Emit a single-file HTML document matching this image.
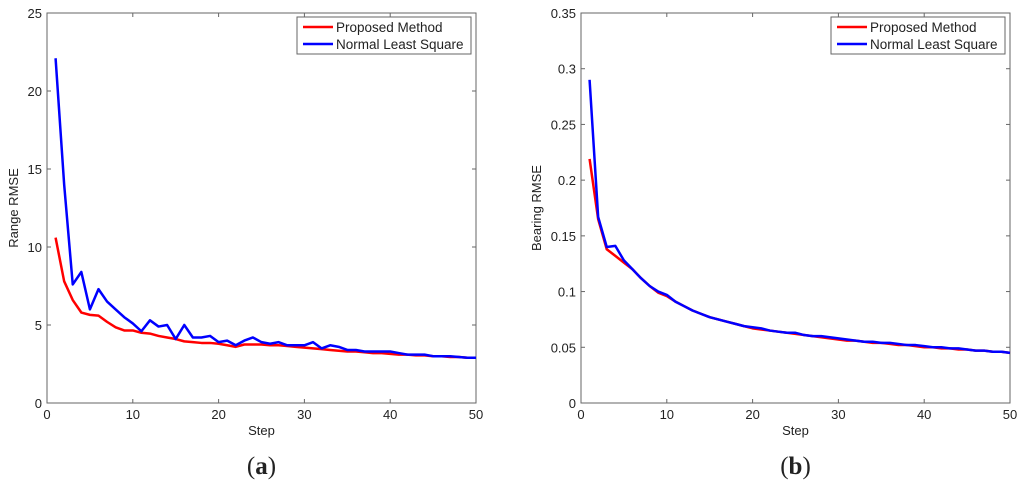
<!DOCTYPE html>
<html><head><meta charset="utf-8"><style>
body{margin:0;background:#fff;}
svg text{font-family:"Liberation Sans",sans-serif;fill:#222;}
</style></head><body>
<svg id="c" width="1024" height="484" xmlns="http://www.w3.org/2000/svg"></svg>
<script>
const steps = Array.from({length:50},(_,i)=>i+1);
const rangeProposed = [10.6,7.8,6.6,5.8,5.65,5.6,5.2,4.85,4.65,4.65,4.5,4.45,4.3,4.2,4.1,3.95,3.9,3.85,3.85,3.8,3.7,3.6,3.75,3.75,3.75,3.7,3.7,3.65,3.6,3.55,3.5,3.45,3.4,3.35,3.3,3.3,3.25,3.2,3.2,3.15,3.1,3.1,3.05,3.05,3.0,3.0,2.95,2.95,2.9,2.9];
const rangeNLS = [22.1,14.0,7.6,8.4,6.0,7.3,6.5,6.0,5.5,5.1,4.6,5.3,4.9,5.0,4.1,5.0,4.2,4.2,4.3,3.9,4.0,3.7,4.0,4.2,3.9,3.8,3.9,3.7,3.7,3.7,3.9,3.5,3.7,3.6,3.4,3.4,3.3,3.3,3.3,3.3,3.2,3.1,3.1,3.1,3.0,3.0,3.0,2.95,2.9,2.9];
const bearProposed = [0.219,0.165,0.138,0.132,0.126,0.12,0.112,0.105,0.099,0.096,0.091,0.087,0.083,0.08,0.077,0.075,0.073,0.071,0.069,0.067,0.066,0.065,0.064,0.063,0.062,0.061,0.06,0.059,0.058,0.057,0.056,0.056,0.055,0.054,0.054,0.053,0.052,0.052,0.051,0.05,0.05,0.049,0.049,0.048,0.048,0.047,0.047,0.046,0.046,0.045];
const bearNLS = [0.29,0.167,0.14,0.141,0.128,0.12,0.112,0.105,0.1,0.097,0.091,0.087,0.083,0.08,0.077,0.075,0.073,0.071,0.069,0.068,0.067,0.065,0.064,0.063,0.063,0.061,0.06,0.06,0.059,0.058,0.057,0.056,0.055,0.055,0.054,0.054,0.053,0.052,0.052,0.051,0.05,0.05,0.049,0.049,0.048,0.047,0.047,0.046,0.046,0.045];
const xTicks = [0,10,20,30,40,50];
const rangeTicks = [0,5,10,15,20,25];
const bearTicks = [0,0.05,0.1,0.15,0.2,0.25,0.3,0.35];
const bearTickLabels = ["0","0.05","0.1","0.15","0.2","0.25","0.3","0.35"];

const svg=document.getElementById('c');
const NS='http://www.w3.org/2000/svg';
function mk(tag,attrs,parent){const e=document.createElementNS(NS,tag);for(const k in attrs)e.setAttribute(k,attrs[k]);(parent||svg).appendChild(e);return e;}

function panel(L,R,ymax,yTicks,yLabels,s1,s2,ytitle,titleOff,tag,pname){
  const T=13,B=403;
  const g=mk('g',{});
  
  
  const xs=v=>L+(v/50)*(R-L);
  const ys=v=>B-(v/ymax)*(B-T);
  const frame=mk('rect',{x:L,y:T,width:R-L,height:B-T,fill:'none',stroke:'#666','stroke-width':1},g);
  
  
  xTicks.forEach(t=>{
    const x=xs(t);
    mk('line',{x1:x,y1:B,x2:x,y2:B-4,stroke:'#666'},g);
    mk('line',{x1:x,y1:T,x2:x,y2:T+4,stroke:'#666'},g);
    const tx=mk('text',{x:x,y:419,'font-size':13,'text-anchor':'middle'},g);
    tx.textContent=t;
    
    
  });
  yTicks.forEach((t,i)=>{
    const y=ys(t);
    mk('line',{x1:L,y1:y,x2:L+4,y2:y,stroke:'#666'},g);
    mk('line',{x1:R,y1:y,x2:R-4,y2:y,stroke:'#666'},g);
    const tx=mk('text',{x:L-5,y:y+5,'font-size':13,'text-anchor':'end'},g);
    tx.textContent=yLabels[i];
    
    
  });
  [[s1,'#ff0000','series-proposed-method'],[s2,'#0000ff','series-normal-least-square']].forEach(([s,c,n])=>{
    const p=mk('polyline',{points:s.map((v,i)=>xs(steps[i])+','+ys(v)).join(' '),fill:'none',stroke:c,'stroke-width':2.5,'stroke-linejoin':'round'},g);
    
    
  });
  const lg=mk('g',{},g);
  
  
  mk('rect',{x:R-179,y:17,width:174,height:37,fill:'#fff',stroke:'#666'},lg);
  [['Proposed Method','#ff0000',27],['Normal Least Square','#0000ff',44]].forEach(([t,c,y])=>{
    mk('line',{x1:R-173,y1:y,x2:R-143,y2:y,stroke:c,'stroke-width':2.5},lg);
    const tx=mk('text',{x:R-140,y:y+5,'font-size':13.5},lg);
    tx.textContent=t;
    
    
  });
  const xt=mk('text',{x:(L+R)/2,y:435,'font-size':13,'text-anchor':'middle'},g);
  xt.textContent='Step';
  
  
  const cy=(T+B)/2;
  const tx0=L-titleOff;
  const yt=mk('text',{x:tx0,y:cy,'font-size':13,'text-anchor':'middle',transform:`rotate(-90 ${tx0} ${cy})`},g);
  yt.textContent=ytitle;
  
  
  const cap=mk('text',{x:(L+R)/2,y:474,'font-size':25,'text-anchor':'middle'},g);
  cap.style.fontFamily='"Liberation Serif",serif';
  cap.innerHTML='(<tspan font-weight="bold">'+tag+'</tspan>)';
  
  
}
panel(47,476,25,rangeTicks,rangeTicks.map(String),rangeProposed,rangeNLS,'Range RMSE',29,'a','range-rmse-chart');
panel(581,1010,0.35,bearTicks,bearTickLabels,bearProposed,bearNLS,'Bearing RMSE',40,'b','bearing-rmse-chart');
</script>
</body></html>
